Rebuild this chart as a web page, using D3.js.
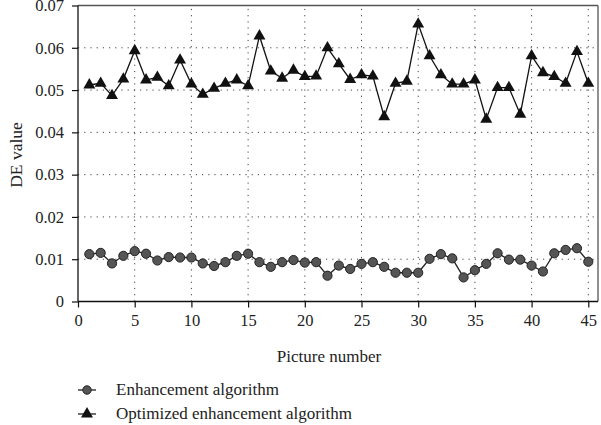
<!DOCTYPE html>
<html><head><meta charset="utf-8">
<script src="https://cdn.jsdelivr.net/npm/d3@7"></script>
<style>body{margin:0;background:#fff}svg{display:block}text{font-family:"Liberation Serif","Times New Roman",serif;fill:#222}</style>
</head><body>
<svg id="c" width="601" height="425"></svg>
<script>
const pictures = d3.range(1, 46);
const enhancement = [0.0112,0.0115,0.0090,0.0108,0.0119,0.0113,0.0097,0.0105,0.0104,0.0104,
  0.0090,0.0084,0.0093,0.0108,0.0113,0.0093,0.0082,0.0093,0.0098,0.0092,
  0.0093,0.0061,0.0085,0.0077,0.0089,0.0093,0.0082,0.0068,0.0068,0.0068,
  0.0101,0.0112,0.0102,0.0057,0.0074,0.0089,0.0114,0.0099,0.0099,0.0085,
  0.0071,0.0114,0.0122,0.0126,0.0094];
const optimized = [0.0512,0.0516,0.0487,0.0526,0.0593,0.0524,0.0530,0.0510,0.0571,0.0514,
  0.0490,0.0504,0.0516,0.0524,0.0510,0.0628,0.0545,0.0528,0.0547,0.0532,
  0.0533,0.0600,0.0562,0.0525,0.0536,0.0533,0.0437,0.0516,0.0521,0.0656,
  0.0581,0.0536,0.0514,0.0514,0.0524,0.0431,0.0506,0.0506,0.0443,0.0581,
  0.0541,0.0532,0.0516,0.0591,0.0516];
const xTicks = [0,5,10,15,20,25,30,35,40,45];
const yTicks = [0,0.01,0.02,0.03,0.04,0.05,0.06,0.07];
const seriesNames = ["Enhancement algorithm","Optimized enhancement algorithm"];

const svg = d3.select("#c");
const FONT = "'Liberation Serif','Times New Roman',serif";
const L = 78, R = 598, T = 5.5, B = 301.5;
const x = d3.scaleLinear().domain([0,45]).range([L, 588.3]);
const y = d3.scaleLinear().domain([0,0.07]).range([B, T]);

// grid
const g = svg.append("g");
g.selectAll("line.vg").data(xTicks.filter(d=>d>0)).join("line")
  .attr("x1", d=>x(d)).attr("x2", d=>x(d)).attr("y1", B).attr("y2", T)
  .attr("stroke","#444").attr("stroke-width",1).attr("stroke-dasharray","1.2,5");
g.selectAll("line.hg").data(yTicks.filter(d=>d>0 && d<0.07)).join("line")
  .attr("x1", L).attr("x2", R).attr("y1", d=>y(d)).attr("y2", d=>y(d))
  .attr("stroke","#444").attr("stroke-width",1).attr("stroke-dasharray","1.2,5");

// frame top/right
svg.append("line").attr("x1",L).attr("x2",R).attr("y1",T).attr("y2",T).attr("stroke","#555").attr("stroke-width",1.3);
svg.append("line").attr("x1",R).attr("x2",R).attr("y1",T).attr("y2",B).attr("stroke","#555").attr("stroke-width",1.3);

// axes
const xa = svg.append("g").attr("transform",`translate(0,${B})`)
  .call(d3.axisBottom(x).tickValues(xTicks).tickSize(6).tickPadding(7).tickFormat(d3.format("d")));
xa.select(".domain").attr("d",`M${L},0H${R}`).attr("stroke","#111").attr("stroke-width",1.3);
const ya = svg.append("g").attr("transform",`translate(${L},0)`)
  .call(d3.axisLeft(y).tickValues(yTicks).tickSize(6).tickPadding(8).tickFormat(d=>d===0?"0":d3.format(".2f")(d)));
ya.select(".domain").attr("d",`M0,${B}V${T}`).attr("stroke","#111").attr("stroke-width",1.3);
svg.selectAll(".tick line").attr("stroke","#111").attr("stroke-width",1.2);
svg.selectAll("g").attr("font-family",FONT);
svg.selectAll(".tick text").attr("font-size",16.5).attr("font-family",FONT).attr("fill","#222");

// axis titles
svg.append("text").attr("x",329).attr("y",362).attr("text-anchor","middle").attr("font-size",17).attr("font-family",FONT).text("Picture number");
svg.append("text").attr("transform","translate(22,155) rotate(-90)").attr("text-anchor","middle").attr("font-size",17.5).attr("font-family",FONT).text("DE value");

// lines
const line = d3.line().x((d,i)=>x(pictures[i])).y(d=>y(d));
svg.append("path").datum(enhancement).attr("d",line).attr("fill","none").attr("stroke","#222").attr("stroke-width",1.3);
svg.append("path").datum(optimized).attr("d",line).attr("fill","none").attr("stroke","#111").attr("stroke-width",1.3);

const tri = d3.symbol().type(d3.symbolTriangle).size(62);
svg.append("g").selectAll("circle").data(enhancement).join("circle")
  .attr("cx",(d,i)=>x(pictures[i])).attr("cy",d=>y(d)).attr("r",4.6)
  .attr("fill","#555").attr("stroke","#222").attr("stroke-width",1);
svg.append("g").selectAll("path").data(optimized).join("path")
  .attr("d",tri).attr("transform",(d,i)=>`translate(${x(pictures[i])},${y(d)})`)
  .attr("fill","#111");

// legend
const lg = svg.append("g");
[0,1].forEach(k=>{
  const yy = 390 + k*24;
  lg.append("line").attr("x1",78).attr("x2",96).attr("y1",yy).attr("y2",yy).attr("stroke","#222").attr("stroke-width",1.3);
  if(k===0) lg.append("circle").attr("cx",87).attr("cy",yy).attr("r",4.2).attr("fill","#555").attr("stroke","#222");
  else lg.append("path").attr("d",tri).attr("transform",`translate(87,${yy})`).attr("fill","#111");
  lg.append("text").attr("x",116).attr("y",yy+5).attr("font-size",17).attr("font-family",FONT).text(seriesNames[k]);
});
</script>
</body></html>
